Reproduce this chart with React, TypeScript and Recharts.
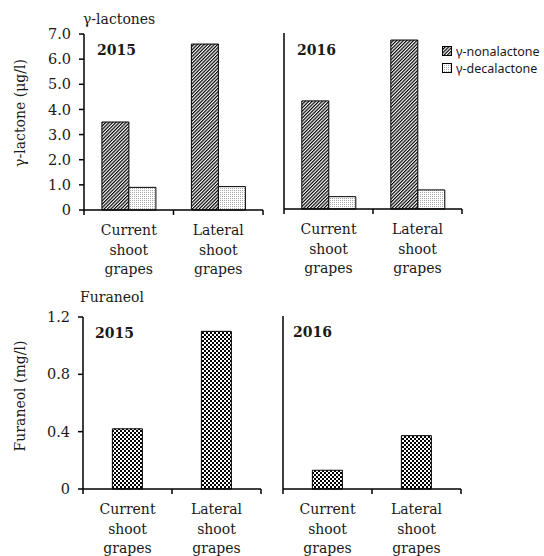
import React from "react";
import { BarChart, Bar, XAxis, YAxis, Legend } from "recharts";

// categories and values
const categories = ["Current shoot grapes", "Lateral shoot grapes"];
const seriesNames = ["γ-nonalactone", "γ-decalactone"];
const nonalactone2015 = [3.5, 6.6];
const decalactone2015 = [0.9, 0.93];
const nonalactone2016 = [4.3, 6.72];
const decalactone2016 = [0.49, 0.76];
const furaneol2015 = [0.42, 1.1];
const furaneol2016 = [0.13, 0.37];
const lactoneTicks = [0, 1, 2, 3, 4, 5, 6, 7];
const furaneolTicks = [0, 0.4, 0.8, 1.2];

const SERIF = '"DejaVu Serif", "Liberation Serif", serif';
const SANS = '"Noto Sans", "Open Sans", sans-serif';
const INK = "#1a1a1a";

const lactoneRows = (non: number[], dec: number[]) =>
  categories.map((name, i) => ({ name, non: non[i], dec: dec[i] }));
const furaneolRows = (vals: number[]) =>
  categories.map((name, i) => ({ name, value: vals[i] }));

const fmt = (v: number) => (v === 0 ? "0" : v.toFixed(1));

// x-axis tick: three-line label at band centre, tick marks at band edges
function CategoryTick(props: any) {
  const { x, y, payload, index } = props;
  const half = payload?.offset ?? 44.5;
  const words = String(payload.value).split(" ");
  const last = index === categories.length - 1;
  return (
    <g>
      <line x1={x - half} y1={y} x2={x - half} y2={y + 5} stroke="#000" strokeWidth={1.5} />
      {last && <line x1={x + half} y1={y} x2={x + half} y2={y + 5} stroke="#000" strokeWidth={1.5} />}
      <text
        x={x}
        y={y + 25}
        textAnchor="middle"
        fill={INK}
        style={{ fontFamily: SERIF, fontSize: 14 }}
      >
        {words.map((w, i) => (
          <tspan key={i} x={x} dy={i === 0 ? 0 : 19.5}>
            {w}
          </tspan>
        ))}
      </text>
    </g>
  );
}

function AxisTitle({ text, cx, cy }: { text: string; cx: number; cy: number }) {
  return (
    <text
      x={cx}
      y={cy}
      transform={`rotate(-90, ${cx}, ${cy})`}
      textAnchor="middle"
      dominantBaseline="central"
      fill={INK}
      style={{ fontFamily: SERIF, fontSize: 14 }}
    >
      {text}
    </text>
  );
}

function LegendBox() {
  const fills = ["url(#hatch)", "url(#dots)"];
  return (
    <div style={{ fontFamily: SANS, fontSize: 12.5, color: INK, lineHeight: "17px" }}>
      {seriesNames.map((n, i) => (
        <div key={n} style={{ display: "flex", alignItems: "center", whiteSpace: "nowrap" }}>
          <svg width={11} height={11} style={{ marginRight: 3 }}>
            <rect x={0.5} y={0.5} width={9} height={9} fill={fills[i]} stroke="#000" strokeWidth={1} />
          </svg>
          {n}
        </div>
      ))}
    </div>
  );
}

const axisStroke = { stroke: "#000", strokeWidth: 1.5 };
const yTick = { fill: INK, fontFamily: SERIF, fontSize: 14.5, style: { fontFamily: SERIF } };

export default function App() {
  return (
    <div
      style={{
        position: "absolute",
        left: 0,
        top: 0,
        width: 544,
        height: 556,
        background: "#fff",
        overflow: "hidden",
      }}
    >
      <svg width={0} height={0} style={{ position: "absolute" }}>
        <defs>
          <pattern id="hatch" patternUnits="userSpaceOnUse" width={2.4} height={2.4} patternTransform="rotate(45)">
            <rect width={2.4} height={2.4} fill="#fff" />
            <rect x={0} y={0} width={1.2} height={2.4} fill="#000" />
          </pattern>
          <pattern id="dots" patternUnits="userSpaceOnUse" width={2} height={2}>
            <rect width={2} height={2} fill="#fff" />
            <rect x={0} y={0} width={1} height={1} fill="#a8a8a8" />
          </pattern>
          <pattern id="checker" patternUnits="userSpaceOnUse" width={4} height={4}>
            <rect width={4} height={4} fill="#fff" />
            <rect x={0} y={0} width={2} height={2} fill="#000" />
            <rect x={2} y={2} width={2} height={2} fill="#000" />
          </pattern>
        </defs>
      </svg>

      {/* γ-lactones 2015 */}
      <div style={{ position: "absolute", left: 0, top: 0 }}>
        <BarChart
          width={270}
          height={290}
          data={lactoneRows(nonalactone2015, decalactone2015)}
          margin={{ top: 34, right: 7, left: 0, bottom: 0 }}
          barCategoryGap="20%"
          barGap={0}
        >
          <XAxis
            dataKey="name"
            height={80}
            axisLine={axisStroke}
            tickLine={false}
            tickSize={0}
            tickMargin={0}
            interval={0}
            tick={<CategoryTick />}
          />
          <YAxis
            width={84}
            domain={[0, 7]}
            ticks={lactoneTicks}
            interval={0}
            tickFormatter={fmt}
            tickSize={5}
            tickMargin={8}
            axisLine={axisStroke}
            tickLine={axisStroke}
            tick={yTick}
            label={<AxisTitle text="γ-lactone (μg/l)" cx={20} cy={113} />}
          />
          <Bar dataKey="non" name={seriesNames[0]} fill="url(#hatch)" stroke="#000" strokeWidth={1} isAnimationActive={false} />
          <Bar dataKey="dec" name={seriesNames[1]} fill="url(#dots)" stroke="#000" strokeWidth={1} isAnimationActive={false} />
        </BarChart>
      </div>

      {/* γ-lactones 2016 */}
      <div style={{ position: "absolute", left: 270, top: 0 }}>
        <BarChart
          width={274}
          height={289}
          data={lactoneRows(nonalactone2016, decalactone2016)}
          margin={{ top: 33, right: 82, left: 0, bottom: 0 }}
          barCategoryGap="20%"
          barGap={0}
        >
          <XAxis
            dataKey="name"
            height={80}
            axisLine={axisStroke}
            tickLine={false}
            tickSize={0}
            tickMargin={0}
            interval={0}
            tick={<CategoryTick />}
          />
          <YAxis
            width={14}
            domain={[0, 7]}
            ticks={lactoneTicks}
            interval={0}
            tickSize={5}
            axisLine={axisStroke}
            tickLine={axisStroke}
            tick={false}
          />
          <Legend
            layout="vertical"
            align="center"
            verticalAlign="middle"
            content={<LegendBox />}
            wrapperStyle={{ left: 172, top: 43, width: "auto" }}
          />
          <Bar dataKey="non" name={seriesNames[0]} fill="url(#hatch)" stroke="#000" strokeWidth={1} isAnimationActive={false} />
          <Bar dataKey="dec" name={seriesNames[1]} fill="url(#dots)" stroke="#000" strokeWidth={1} isAnimationActive={false} />
        </BarChart>
      </div>

      {/* Furaneol 2015 */}
      <div style={{ position: "absolute", left: 0, top: 290 }}>
        <BarChart
          width={270}
          height={266}
          data={furaneolRows(furaneol2015)}
          margin={{ top: 27, right: 9, left: 0, bottom: 0 }}
          barCategoryGap="33%"
        >
          <XAxis
            dataKey="name"
            height={67}
            axisLine={axisStroke}
            tickLine={false}
            tickSize={0}
            tickMargin={0}
            interval={0}
            tick={<CategoryTick />}
          />
          <YAxis
            width={83}
            domain={[0, 1.2]}
            ticks={furaneolTicks}
            interval={0}
            tickFormatter={fmt}
            tickSize={5}
            tickMargin={8}
            axisLine={axisStroke}
            tickLine={axisStroke}
            tick={yTick}
            label={<AxisTitle text="Furaneol (mg/l)" cx={20} cy={106} />}
          />
          <Bar dataKey="value" fill="url(#checker)" stroke="#000" strokeWidth={1} isAnimationActive={false} />
        </BarChart>
      </div>

      {/* Furaneol 2016 */}
      <div style={{ position: "absolute", left: 270, top: 290 }}>
        <BarChart
          width={274}
          height={266}
          data={furaneolRows(furaneol2016)}
          margin={{ top: 26, right: 83, left: 0, bottom: 0 }}
          barCategoryGap="33%"
        >
          <XAxis
            dataKey="name"
            height={67}
            axisLine={axisStroke}
            tickLine={false}
            tickSize={0}
            tickMargin={0}
            interval={0}
            tick={<CategoryTick />}
          />
          <YAxis
            width={13}
            domain={[0, 1.2]}
            ticks={furaneolTicks}
            interval={0}
            tickSize={5}
            axisLine={axisStroke}
            tickLine={axisStroke}
            tick={false}
          />
          <Bar dataKey="value" fill="url(#checker)" stroke="#000" strokeWidth={1} isAnimationActive={false} />
        </BarChart>
      </div>

      {/* panel titles and year tags */}
      <svg width={544} height={556} style={{ position: "absolute", left: 0, top: 0, pointerEvents: "none" }}>
        <g fill={INK} style={{ fontFamily: SERIF }}>
          <text x={83} y={24} fontSize={14}>γ-lactones</text>
          <text x={80} y={302} fontSize={14}>Furaneol</text>
          <g fontSize={14} fontWeight="bold">
            <text x={97} y={55}>2015</text>
            <text x={297} y={55}>2016</text>
            <text x={95} y={338}>2015</text>
            <text x={293} y={337}>2016</text>
          </g>
        </g>
      </svg>
    </div>
  );
}
